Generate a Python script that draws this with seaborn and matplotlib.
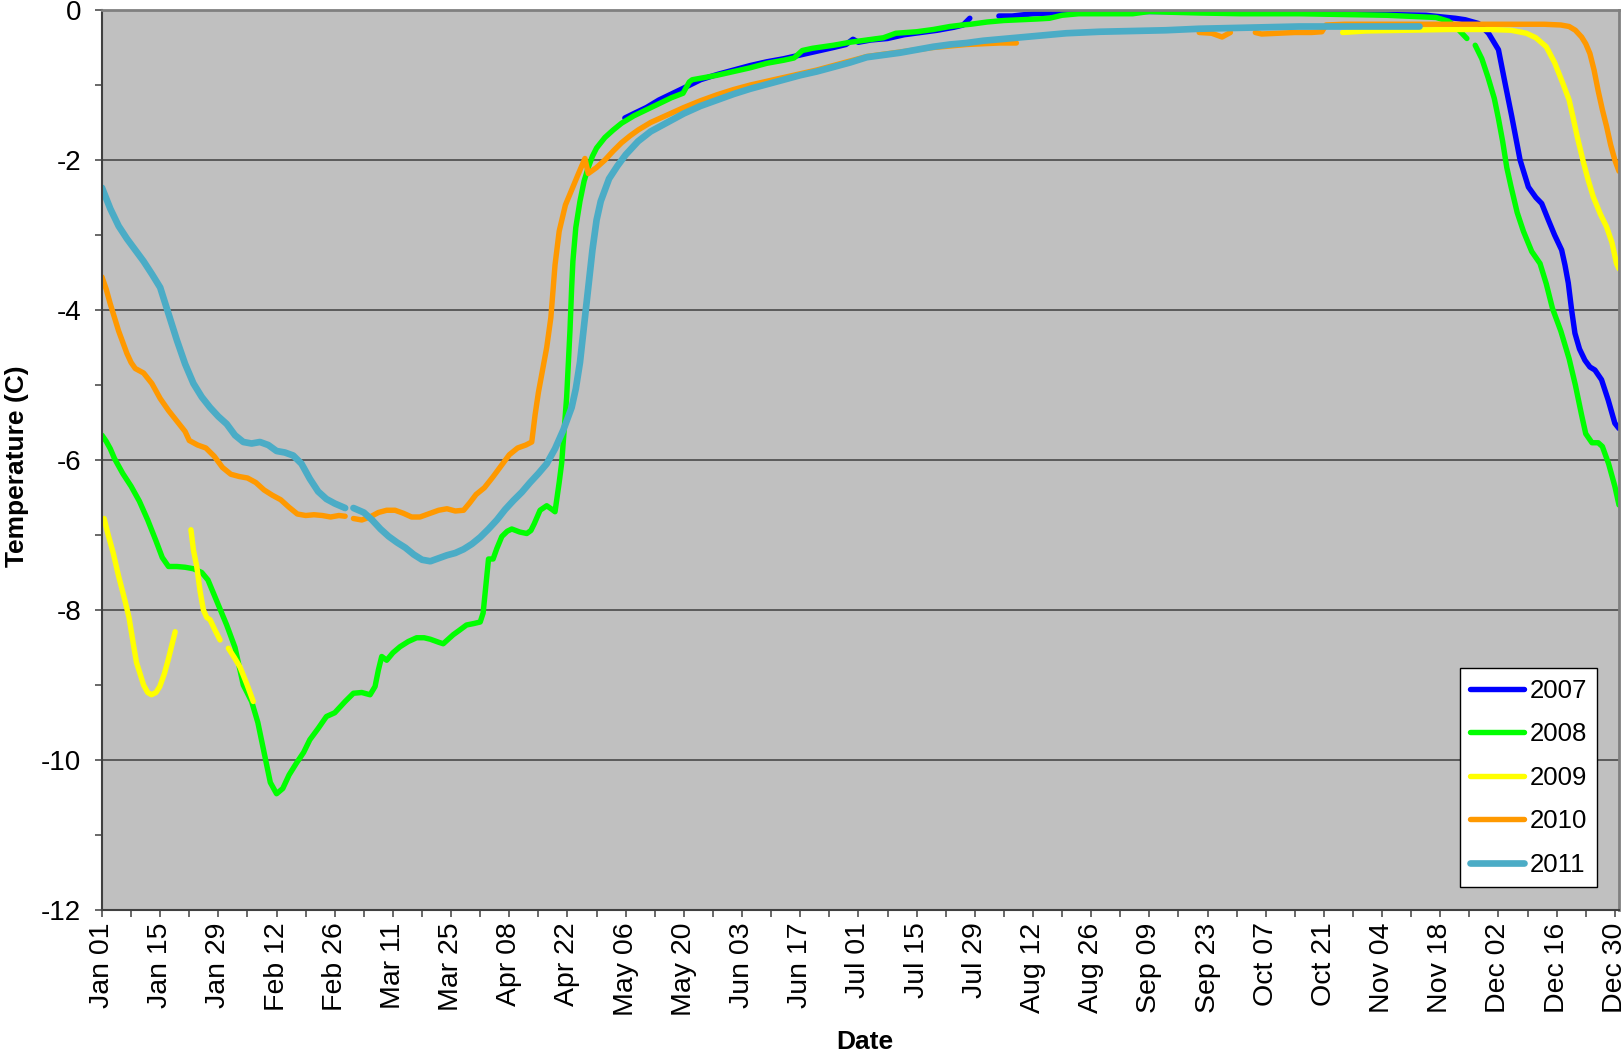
import numpy as np
import pandas as pd
import matplotlib
matplotlib.use("Agg")
import matplotlib.pyplot as plt
from matplotlib.lines import Line2D
import seaborn as sns

# day of year (2008 calendar, Jan 01 = 1); None marks a gap in the record
years = ["2007", "2008", "2009", "2010", "2011"]
colors = ["#0000FF", "#00FF00", "#FFFF00", "#FF9900", "#4BACC6"]

day_2007 = [126.8, 129, 132, 135, 138, 141, 145, 149, 153, 157, 161, 165, 169, 173, 177, 180,
            181.7, 183, 186, 190, 194, 198, 202, 206, 208.2, 209.8, None,
            216.8, 220, 225, 229, 233, 240, 250, 260, 270, 280, 290, 300, 310, 319.6, 323,
            326.6, 329, 332.2, 334.6, 337, 338.6, 340.2, 342.2, 344.2, 346, 347.4, 349,
            350.5, 352.2, 353, 353.8, 354.6, 355.4, 356.5, 357.8, 359, 360.2, 361.8,
            363.4, 365, 366]
temp_2007 = [-1.44, -1.38, -1.30, -1.20, -1.12, -1.04, -0.93, -0.86, -0.80, -0.74, -0.69, -0.65,
             -0.60, -0.55, -0.50, -0.46, -0.39, -0.43, -0.40, -0.38, -0.33, -0.30, -0.27, -0.23,
             -0.20, -0.11, None,
             -0.08, -0.08, -0.05, -0.04, -0.02, -0.02, -0.02, -0.02, -0.03, -0.03, -0.04, -0.05,
             -0.06, -0.07, -0.09, -0.11, -0.13, -0.18, -0.31, -0.53, -0.98, -1.42, -2.00,
             -2.36, -2.50, -2.58, -2.80, -3.00, -3.20, -3.40, -3.64, -4.00, -4.31, -4.52,
             -4.67, -4.76, -4.80, -4.93, -5.20, -5.51, -5.58]

day_2008 = [1, 2, 3, 4, 5, 6, 8, 10, 12, 14, 15.5, 17, 19, 21, 23, 25, 26.5, 28, 29.5, 31, 33,
            35, 37, 38.5, 40, 41.5, 43, 44.5, 46, 47.8, 49.5, 51, 53, 55, 57, 59.5, 61.5,
            63.5, 65.5, 66.7, 67.5, 68.3, 69.5, 71, 72.7, 74.7, 76.7, 78.5, 80, 82, 83.1,
            84.5, 85.5, 87, 88.7, 90.5, 92, 92.7, 93.5, 94, 95.1, 96, 97.2, 98.5, 99.6,
            101.5, 103.2, 104.2, 105, 106.4, 108, 109.3, 110, 111, 111.6, 112.2, 112.8,
            113.3, 113.6, 114, 114.3, 115, 116, 117, 118, 119, 120, 122, 124, 126, 129,
            132, 135, 138, 140.8, 142.3, 143, 145, 149, 153, 157, 161, 165, 167.5, 169.5,
            172, 177, 181, 185, 189, 192, 197, 201, 205, 208, 210, 214, 218, 222, 226, 229,
            232, 236, 240, 245, 249, 253, 258, 265, 275, 289, 300, 310, 318, 322, 325, 327,
            329.4, None,
            331.4, 333, 334.5, 336, 337, 338, 339, 340, 341.5, 343, 345, 347, 348.5, 350,
            352, 354, 355.5, 357, 358, 359.5, 361, 362, 363.5, 365, 366]
temp_2008 = [-5.67, -5.75, -5.85, -5.98, -6.08, -6.18, -6.35, -6.55, -6.80, -7.08, -7.30,
             -7.42, -7.42, -7.43, -7.45, -7.50, -7.60, -7.80, -8.00, -8.20, -8.50, -9.00,
             -9.22, -9.50, -9.90, -10.30, -10.45, -10.38, -10.20, -10.04, -9.90, -9.73,
             -9.58, -9.42, -9.37, -9.22, -9.11, -9.10, -9.13, -9.02, -8.80, -8.62, -8.67,
             -8.57, -8.49, -8.42, -8.37, -8.37, -8.39, -8.43, -8.45, -8.38, -8.33, -8.27,
             -8.20, -8.18, -8.16, -8.04, -7.60, -7.32, -7.32, -7.18, -7.02, -6.95, -6.92,
             -6.96, -6.98, -6.94, -6.85, -6.67, -6.61, -6.66, -6.69, -6.30, -6.04, -5.60,
             -5.16, -4.60, -4.27, -3.70, -3.35, -2.90, -2.55, -2.28, -2.10, -1.95, -1.84,
             -1.70, -1.60, -1.51, -1.41, -1.33, -1.25, -1.17, -1.11, -0.96, -0.93, -0.91,
             -0.87, -0.82, -0.77, -0.71, -0.67, -0.64, -0.54, -0.51, -0.47, -0.43, -0.40,
             -0.37, -0.31, -0.29, -0.26, -0.22, -0.20, -0.19, -0.16, -0.14, -0.13, -0.12,
             -0.11, -0.07, -0.05, -0.05, -0.05, -0.05, -0.02, -0.03, -0.04, -0.05, -0.05,
             -0.06, -0.07, -0.09, -0.10, -0.15, -0.24, -0.38, None,
             -0.47, -0.65, -0.90, -1.18, -1.45, -1.75, -2.10, -2.35, -2.70, -2.95, -3.22,
             -3.38, -3.65, -3.98, -4.28, -4.65, -5.00, -5.40, -5.65, -5.77, -5.77, -5.82,
             -6.05, -6.35, -6.60]

day_2009 = [1.5, 2.5, 3.7, 5, 6.5, 7.5, 8.5, 9.3, 10.1, 11, 12, 12.9, 14, 14.9, 16, 16.9, 18.6,
            None,
            22.4, 23, 23.8, 24.6, 25.4, 26.2, 27, 28.2, 29.4, None,
            31.4, 32.8, 34.2, 35.8, 37.4, None,
            299.5, 305, 315, 325, 335, 340, 343.7, 346, 348.5, 350.5, 352.5, 354, 354.9,
            356, 357.3, 358.5, 359.8, 361.5, 363, 364.3, 365.4, 366]
temp_2009 = [-6.78, -7.00, -7.24, -7.55, -7.87, -8.10, -8.44, -8.70, -8.84, -9.00, -9.10,
             -9.13, -9.10, -9.02, -8.85, -8.67, -8.29, None,
             -6.93, -7.20, -7.42, -7.75, -8.00, -8.10, -8.13, -8.27, -8.40, None,
             -8.51, -8.63, -8.76, -8.98, -9.22, None,
             -0.30, -0.28, -0.27, -0.26, -0.26, -0.27, -0.31, -0.37, -0.49, -0.70, -0.98,
             -1.20, -1.42, -1.70, -2.00, -2.25, -2.49, -2.72, -2.89, -3.10, -3.38, -3.45]

day_2010 = [1, 2, 3, 4, 5, 6, 7, 8, 9, 11, 13, 15, 17, 19, 21, 22, 24, 26, 28, 30, 32, 34, 36,
            38, 40, 42, 44, 46, 48, 50, 52, 54, 56, 58, 59.5, None,
            61.5, 63.5, 65.5, 67.5, 69.5, 71.5, 73.5, 75.5, 77.5, 80, 82, 84, 86, 88, 89.5,
            91, 93, 95, 97, 99, 101, 103, 104.4, 105.2, 106, 107, 108, 109, 110, 111, 112.5,
            114, 115.5, 117.2, 118, 120, 122, 124, 126, 128, 130, 133, 137, 141, 145, 149,
            153, 157, 161, 165, 169, 173, 177, 181, 185, 189, 193, 197, 201, 205, 209, 213,
            217, 221, None,
            265, 268, 270.5, 272.5, None,
            278.5, 280, 284, 288, 292, 294.5, 295.5, 300, 310, 320, 330, 340, 348, 352, 354,
            355.5, 357, 358, 359, 360, 361, 362, 363, 364, 365, 366]
temp_2010 = [-3.56, -3.72, -3.92, -4.10, -4.28, -4.43, -4.58, -4.70, -4.78, -4.84, -4.98,
             -5.18, -5.34, -5.48, -5.62, -5.74, -5.80, -5.84, -5.95, -6.10, -6.19, -6.22,
             -6.24, -6.30, -6.40, -6.47, -6.53, -6.63, -6.72, -6.74, -6.73, -6.74, -6.76,
             -6.74, -6.75, None,
             -6.78, -6.80, -6.76, -6.70, -6.67, -6.67, -6.71, -6.76, -6.76, -6.71, -6.67,
             -6.65, -6.68, -6.67, -6.57, -6.46, -6.37, -6.23, -6.08, -5.93, -5.84, -5.80,
             -5.76, -5.40, -5.10, -4.80, -4.50, -4.10, -3.40, -2.95, -2.60, -2.40, -2.20,
             -1.98, -2.18, -2.10, -2.00, -1.88, -1.77, -1.68, -1.60, -1.50, -1.40, -1.30,
             -1.21, -1.13, -1.06, -1.00, -0.95, -0.90, -0.85, -0.80, -0.74, -0.68, -0.62,
             -0.59, -0.56, -0.53, -0.50, -0.48, -0.46, -0.45, -0.44, -0.44, None,
             -0.30, -0.31, -0.36, -0.30, None,
             -0.30, -0.32, -0.31, -0.30, -0.30, -0.29, -0.20, -0.19, -0.19, -0.19, -0.19,
             -0.19, -0.19, -0.20, -0.22, -0.27, -0.36, -0.45, -0.58, -0.80, -1.08, -1.33,
             -1.55, -1.80, -2.00, -2.15]

day_2011 = [1, 3, 5, 7, 9, 11, 13, 15, 17, 19, 21, 23, 25, 27, 29, 31, 33, 35, 37, 39, 41, 43,
            45, 47, 49, 51, 53, 55, 57, 59.5, None,
            61.5, 64, 66, 68, 70, 72, 74, 76, 78, 80, 82, 84, 86, 88, 90, 92, 94, 96, 98, 100,
            102, 104, 106, 108, 110, 112, 114, 115, 116, 117, 118, 119, 120, 121, 123, 125,
            127, 130, 133, 137, 141, 145, 149, 153, 157, 161, 165, 169, 173, 177, 181, 185,
            189, 193, 197, 201, 205, 209, 213, 217, 221, 225, 229, 233, 237, 241, 249, 257,
            265, 273, 281, 289, 297, 305, 313, 318]
temp_2011 = [-2.37, -2.65, -2.88, -3.05, -3.20, -3.35, -3.52, -3.70, -4.05, -4.40, -4.72,
             -4.98, -5.16, -5.30, -5.42, -5.52, -5.67, -5.76, -5.78, -5.76, -5.80, -5.88,
             -5.90, -5.94, -6.05, -6.25, -6.42, -6.52, -6.58, -6.64, None,
             -6.64, -6.70, -6.80, -6.92, -7.02, -7.10, -7.17, -7.26, -7.33, -7.35, -7.31,
             -7.27, -7.24, -7.19, -7.12, -7.03, -6.92, -6.80, -6.66, -6.54, -6.43, -6.30,
             -6.18, -6.05, -5.85, -5.60, -5.30, -5.05, -4.70, -4.20, -3.70, -3.20, -2.80,
             -2.55, -2.25, -2.08, -1.93, -1.75, -1.62, -1.50, -1.38, -1.28, -1.20, -1.12,
             -1.05, -0.99, -0.93, -0.87, -0.82, -0.76, -0.70, -0.63, -0.60, -0.57, -0.53,
             -0.49, -0.46, -0.44, -0.41, -0.39, -0.37, -0.35, -0.33, -0.31, -0.30, -0.29,
             -0.28, -0.27, -0.25, -0.24, -0.23, -0.22, -0.22, -0.22, -0.22, -0.22]

series_days = [day_2007, day_2008, day_2009, day_2010, day_2011]
series_temps = [temp_2007, temp_2008, temp_2009, temp_2010, temp_2011]
line_widths = [3.9, 3.9, 3.9, 3.9, 4.8]

tick_days = list(range(1, 366, 14))
tick_labels = list(pd.date_range("2008-01-01", "2008-12-30", freq="14D").strftime("%b %d"))


def build_frame(year, days, temps):
    rows = []
    seg = 0
    for d, t in zip(days, temps):
        if d is None:
            seg += 1
            continue
        rows.append({"year": year, "segment": seg, "day": d, "temp": t})
    return pd.DataFrame(rows)


plt.rcParams['font.family'] = ['Liberation Sans', 'DejaVu Sans']

fig = plt.figure(figsize=(16.21, 10.54), dpi=100)
ax = fig.add_axes([102 / 1621, 1 - 910 / 1054, 1517 / 1621, 900 / 1054])
ax.set_facecolor("#C0C0C0")

handles = []
for year, days, temps, c, lw in zip(years, series_days, series_temps, colors, line_widths):
    df = build_frame(year, days, temps)
    sns.lineplot(data=df, x="day", y="temp", units="segment", estimator=None, sort=False,
                 color=c, linewidth=lw, solid_capstyle="round", legend=False, ax=ax)
    handles.append(Line2D([], [], color=c, lw=lw, solid_capstyle="round", label=year))

ax.set_xlim(1, 366)
ax.set_ylim(-12, 0)
ax.set_xticks(tick_days)
ax.set_xticklabels(tick_labels, rotation=90, fontsize=20.5)
ax.set_xticks(list(range(8, 366, 14)), minor=True)
ax.set_yticks(list(range(-12, 1, 2)))
ax.set_yticklabels([str(v) for v in range(-12, 1, 2)], fontsize=20)
ax.set_yticks(list(range(-11, 0, 2)), minor=True)

ax.grid(axis="y", which="major", color="#404040", linewidth=1.1)
ax.set_axisbelow(True)

ax.tick_params(axis="both", which="both", direction="out", length=5, width=1.1, color="#404040")
ax.tick_params(axis="y", which="major", pad=10)
ax.tick_params(axis="x", which="major", pad=4)

for side in ["left", "bottom"]:
    ax.spines[side].set_color("#404040")
    ax.spines[side].set_linewidth(1.5)
for side in ["top", "right"]:
    ax.spines[side].set_color("#808080")
    ax.spines[side].set_linewidth(2)

ax.set_xlabel("Date", fontsize=19, fontweight="bold")
ax.set_ylabel("Temperature (C)", fontsize=19, fontweight="bold")
ax.xaxis.set_label_coords(0.503, -0.133)
ax.yaxis.set_label_coords(-0.048, 0.493)

leg = ax.legend(handles=handles, loc="lower right", bbox_to_anchor=(0.9855, 0.0256),
                borderaxespad=0, fontsize=18.5, frameon=True, fancybox=False,
                framealpha=1, edgecolor="black", handlelength=2.1, handletextpad=0.2,
                labelspacing=0.76, borderpad=0.4)
leg.get_frame().set_linewidth(1)

fig.savefig("out.png", dpi=100)
